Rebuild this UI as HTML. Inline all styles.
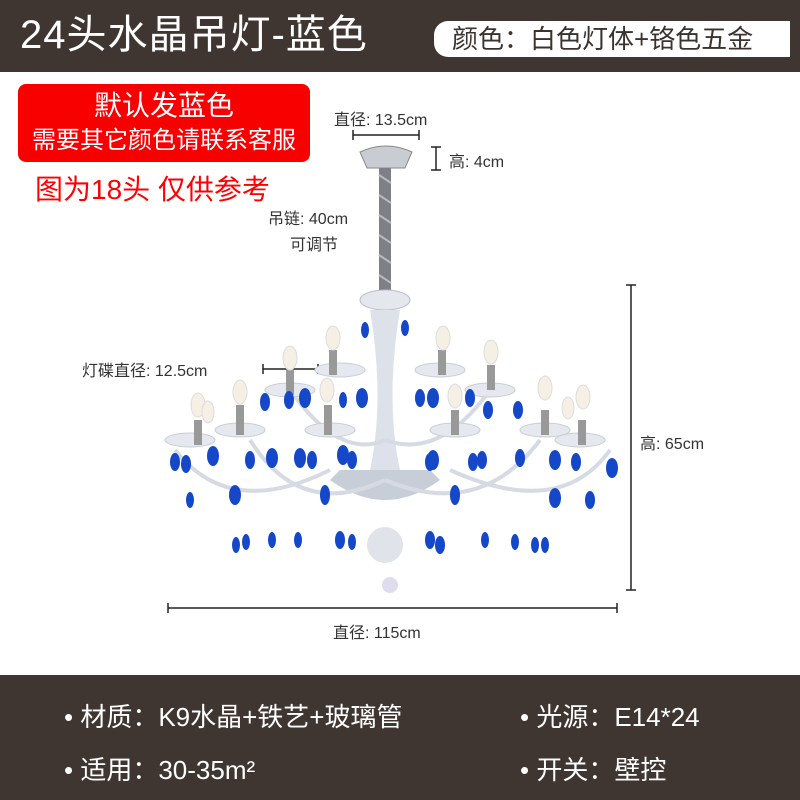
<!DOCTYPE html>
<html><head><meta charset="utf-8"><style>
body{margin:0;width:800px;height:800px;overflow:hidden;background:#fff;font-family:"Liberation Sans","Noto Sans CJK SC",sans-serif;position:relative}
.top{position:absolute;left:0;top:0;width:800px;height:72px;background:#3f3631}
.title{position:absolute;left:20px;top:10px;color:#fff;font-size:40px;line-height:50px;letter-spacing:1px}
.pill{position:absolute;left:434px;top:21px;width:356px;height:36px;background:#fff;border-radius:14px 0 0 14px;color:#3a332f;font-size:26px;line-height:36px;text-indent:18px;white-space:nowrap}
.red{position:absolute;left:18px;top:84px;width:292px;height:78px;background:#f80000;border-radius:8px;color:#fff;text-align:center}
.bot{position:absolute;left:0;top:675px;width:800px;height:125px;background:#3f3631;color:#fff;font-size:26px}
.bot div{position:absolute;white-space:nowrap}
.lbl{position:absolute;font-size:16px;color:#333;white-space:nowrap}
</style></head><body>
<div class="top"></div>
<div class="title">24头水晶吊灯-蓝色</div>
<div class="pill">颜色：白色灯体+铬色五金</div>
<div class="red"><div style="font-size:28px;line-height:38px;margin-top:3px">默认发蓝色</div><div style="font-size:24px;line-height:32px">需要其它颜色请联系客服</div></div>
<div style="position:absolute;left:35px;top:168px;color:#f00;font-size:28px">图为18头 仅供参考</div>
<div class="lbl" style="left:334px;top:106px">直径: 13.5cm</div>
<div class="lbl" style="left:449px;top:148px">高: 4cm</div>
<div class="lbl" style="left:268px;top:205px">吊链: 40cm</div>
<div class="lbl" style="left:290px;top:231px">可调节</div>
<div class="lbl" style="left:82px;top:357px">灯碟直径: 12.5cm</div>
<div class="lbl" style="left:640px;top:430px">高: 65cm</div>
<div class="lbl" style="left:333px;top:619px">直径: 115cm</div>
<svg style="position:absolute;left:0;top:0" width="800" height="800">
<g stroke="#222" stroke-width="1.5" fill="#222">
<line x1="353" y1="135" x2="419" y2="135"/><line x1="353" y1="130" x2="353" y2="140"/><line x1="419" y1="130" x2="419" y2="140"/>
<line x1="436" y1="147" x2="436" y2="170"/><line x1="431" y1="147" x2="441" y2="147"/><line x1="431" y1="170" x2="441" y2="170"/>
<line x1="263" y1="369" x2="318" y2="369"/><line x1="263" y1="364" x2="263" y2="374"/><line x1="318" y1="364" x2="318" y2="374"/>
<line x1="631" y1="285" x2="631" y2="590"/><line x1="626" y1="285" x2="636" y2="285"/><line x1="626" y1="590" x2="636" y2="590"/>
<line x1="168" y1="608" x2="617" y2="608"/><line x1="168" y1="603" x2="168" y2="613"/><line x1="617" y1="603" x2="617" y2="613"/>
</g>
<path d="M360 152 Q386 140 412 152 L405 168 L367 168Z" fill="#c9ccd2" stroke="#888"/>
<rect x="379" y="168" width="12" height="130" fill="#7f7f86"/>
<path d="M379 175 l12 8 M379 195 l12 8 M379 215 l12 8 M379 235 l12 8 M379 255 l12 8 M379 275 l12 8" stroke="#bbb" stroke-width="2"/>
<ellipse cx="385" cy="300" rx="25" ry="10" fill="#e4e8ee" stroke="#bbc"/>
<path d="M370 310 Q385 400 370 470 L400 470 Q385 400 400 310Z" fill="#dde2ea"/>
<path d="M330 480 Q385 520 440 480 L430 470 L340 470Z" fill="#c8ced8"/>
<ellipse cx="385" cy="545" rx="18" ry="18" fill="#e0e4ea"/>
<circle cx="390" cy="585" r="8" fill="#dde"/>
<g fill="none" stroke="#d6dbe3" stroke-width="4">
<path d="M175 450 Q230 520 330 470"/><path d="M250 440 Q300 520 385 480"/><path d="M610 450 Q560 520 450 470"/><path d="M540 440 Q480 520 385 480"/><path d="M290 390 Q340 460 385 440"/><path d="M490 390 Q440 460 385 440"/>
</g>
<g fill="#e5e9ef" stroke="#c8ced6">
<ellipse cx="190" cy="440" rx="25" ry="7"/><ellipse cx="240" cy="430" rx="25" ry="7"/><ellipse cx="290" cy="390" rx="25" ry="7"/><ellipse cx="330" cy="430" rx="25" ry="7"/><ellipse cx="340" cy="370" rx="25" ry="7"/><ellipse cx="440" cy="370" rx="25" ry="7"/><ellipse cx="455" cy="430" rx="25" ry="7"/><ellipse cx="490" cy="390" rx="25" ry="7"/><ellipse cx="545" cy="430" rx="25" ry="7"/><ellipse cx="580" cy="440" rx="25" ry="7"/>
</g>
<g fill="#999"><rect x="194" y="420" width="8" height="25"/><rect x="236" y="405" width="8" height="30"/><rect x="286" y="370" width="8" height="25"/><rect x="329" y="350" width="8" height="25"/><rect x="324" y="405" width="8" height="30"/><rect x="438" y="350" width="8" height="25"/><rect x="451" y="410" width="8" height="25"/><rect x="487" y="365" width="8" height="25"/><rect x="541" y="410" width="8" height="25"/><rect x="578" y="420" width="8" height="25"/></g>
<g fill="#f5efe4" stroke="#ddd"><ellipse cx="198" cy="405" rx="7" ry="12"/><ellipse cx="208" cy="412" rx="6" ry="11"/><ellipse cx="240" cy="392" rx="7" ry="12"/><ellipse cx="290" cy="358" rx="7" ry="12"/><ellipse cx="333" cy="338" rx="7" ry="12"/><ellipse cx="327" cy="390" rx="7" ry="12"/><ellipse cx="443" cy="338" rx="7" ry="12"/><ellipse cx="491" cy="352" rx="7" ry="12"/><ellipse cx="455" cy="396" rx="7" ry="12"/><ellipse cx="545" cy="388" rx="7" ry="12"/><ellipse cx="568" cy="408" rx="6" ry="11"/><ellipse cx="583" cy="397" rx="7" ry="12"/></g>
<g fill="#1448c8">
<ellipse cx="175" cy="462" rx="5" ry="9"/><ellipse cx="186" cy="464" rx="5" ry="9"/><ellipse cx="213" cy="456" rx="6" ry="10"/><ellipse cx="250" cy="460" rx="5" ry="9"/><ellipse cx="272" cy="458" rx="6" ry="10"/><ellipse cx="300" cy="458" rx="6" ry="10"/><ellipse cx="312" cy="460" rx="5" ry="9"/><ellipse cx="343" cy="455" rx="6" ry="10"/><ellipse cx="352" cy="460" rx="5" ry="9"/><ellipse cx="433" cy="460" rx="6" ry="10"/><ellipse cx="430" cy="462" rx="5" ry="9"/><ellipse cx="473" cy="462" rx="5" ry="9"/><ellipse cx="482" cy="460" rx="5" ry="9"/><ellipse cx="520" cy="458" rx="5" ry="9"/><ellipse cx="555" cy="460" rx="6" ry="10"/><ellipse cx="576" cy="462" rx="5" ry="9"/><ellipse cx="612" cy="468" rx="6" ry="10"/>
<ellipse cx="265" cy="402" rx="5" ry="9"/><ellipse cx="289" cy="400" rx="5" ry="9"/><ellipse cx="305" cy="398" rx="6" ry="10"/><ellipse cx="343" cy="400" rx="4" ry="8"/><ellipse cx="362" cy="398" rx="6" ry="10"/><ellipse cx="365" cy="330" rx="4" ry="8"/><ellipse cx="405" cy="328" rx="4" ry="8"/><ellipse cx="420" cy="398" rx="5" ry="9"/><ellipse cx="433" cy="398" rx="6" ry="10"/><ellipse cx="470" cy="398" rx="5" ry="9"/><ellipse cx="488" cy="410" rx="5" ry="9"/><ellipse cx="518" cy="410" rx="5" ry="9"/>
<ellipse cx="190" cy="500" rx="4" ry="8"/><ellipse cx="235" cy="495" rx="6" ry="10"/><ellipse cx="325" cy="495" rx="5" ry="10"/><ellipse cx="455" cy="495" rx="5" ry="10"/><ellipse cx="555" cy="498" rx="6" ry="10"/><ellipse cx="590" cy="500" rx="5" ry="9"/>
<ellipse cx="236" cy="545" rx="4" ry="8"/><ellipse cx="246" cy="542" rx="4" ry="8"/><ellipse cx="272" cy="540" rx="4" ry="8"/><ellipse cx="298" cy="540" rx="4" ry="8"/><ellipse cx="340" cy="540" rx="5" ry="9"/><ellipse cx="352" cy="542" rx="4" ry="8"/><ellipse cx="430" cy="540" rx="5" ry="9"/><ellipse cx="440" cy="545" rx="5" ry="9"/><ellipse cx="485" cy="540" rx="4" ry="8"/><ellipse cx="515" cy="542" rx="4" ry="8"/><ellipse cx="535" cy="545" rx="4" ry="8"/><ellipse cx="545" cy="545" rx="4" ry="8"/>
</g>
</svg>
<div class="bot">
<div style="left:64px;top:22px">• 材质：K9水晶+铁艺+玻璃管</div>
<div style="left:520px;top:22px">• 光源：E14*24</div>
<div style="left:64px;top:75px">• 适用：30-35m²</div>
<div style="left:520px;top:75px">• 开关：壁控</div>
</div>
</body></html>
